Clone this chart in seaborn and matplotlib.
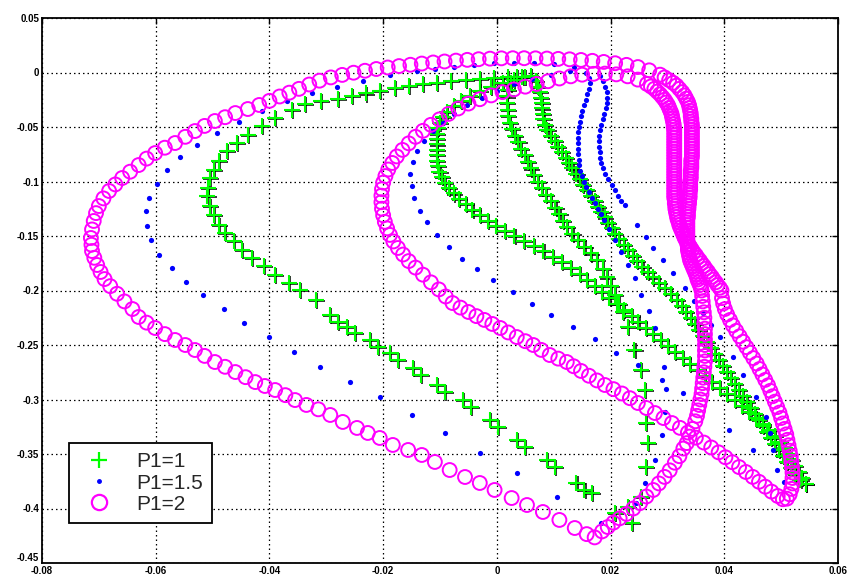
import matplotlib
matplotlib.use("Agg")
import matplotlib.pyplot as plt
import seaborn as sns
import pandas as pd
import numpy as np
from matplotlib.lines import Line2D
from matplotlib.transforms import ScaledTranslation

# ---------------- data ----------------
x_ticks = [-0.08, -0.06, -0.04, -0.02, 0.0, 0.02, 0.04, 0.06]
x_tick_labels = ["-0.08", "-0.06", "-0.04", "-0.02", "0", "0.02", "0.04", "0.06"]
y_ticks = [0.05, 0.0, -0.05, -0.1, -0.15, -0.2, -0.25, -0.3, -0.35, -0.4, -0.45]
y_tick_labels = ["0.05", "0", "-0.05", "-0.1", "-0.15", "-0.2", "-0.25", "-0.3", "-0.35", "-0.4", "-0.45"]
legend_labels = ["P1=1", "P1=1.5", "P1=2"]

# P1=1 (green +)
green_outer = [
    (0.0045, -0.0040), (0.0020, -0.0045), (-0.0005, -0.0050), (-0.0030, -0.0058), (-0.0055, -0.0068),
    (-0.0080, -0.0080), (-0.0105, -0.0093), (-0.0130, -0.0108), (-0.0155, -0.0125), (-0.0180, -0.0145),
    (-0.0205, -0.0168), (-0.0230, -0.0192), (-0.0255, -0.0218), (-0.0280, -0.0240), (-0.0310, -0.0258),
    (-0.0337, -0.0285), (-0.0360, -0.0341), (-0.0390, -0.0417), (-0.0413, -0.0494), (-0.0437, -0.0570),
    (-0.0457, -0.0647), (-0.0475, -0.0723), (-0.0489, -0.0815), (-0.0498, -0.0892), (-0.0504, -0.0968),
    (-0.0508, -0.1060), (-0.0509, -0.1136), (-0.0504, -0.1228), (-0.0498, -0.1304), (-0.0489, -0.1396),
    (-0.0478, -0.1473), (-0.0463, -0.1549), (-0.0448, -0.1626), (-0.0431, -0.1702), (-0.0410, -0.1778),
    (-0.0390, -0.1855), (-0.0366, -0.1931), (-0.0346, -0.1992), (-0.0318, -0.2085), (-0.0293, -0.2225),
    (-0.0264, -0.2332), (-0.0223, -0.2454), (-0.0188, -0.2576), (-0.0147, -0.2714), (-0.0105, -0.2867),
    (-0.0059, -0.3005), (-0.0012, -0.3188), (0.0035, -0.3372), (0.0088, -0.3555), (0.0140, -0.3769),
    (0.0167, -0.3860), (0.0208, -0.4044), (0.0237, -0.4136),
]
green_outer_second_pass = [
    (-0.0279, -0.2285), (-0.0250, -0.2392), (-0.0209, -0.2514), (-0.0174, -0.2636), (-0.0133, -0.2774),
    (-0.0091, -0.2927), (-0.0045, -0.3065), (0.0002, -0.3248), (0.0049, -0.3432), (0.0102, -0.3615),
    (0.0154, -0.3829),
]
green_band_left = [
    (0.0050, -0.0040), (0.0030, -0.0065), (0.0010, -0.0095), (-0.0010, -0.0130), (-0.0030, -0.0170),
    (-0.0048, -0.0215), (-0.0063, -0.0260), (-0.0076, -0.0310), (-0.0087, -0.0360), (-0.0095, -0.0410),
    (-0.0100, -0.0460), (-0.0103, -0.0510), (-0.0105, -0.0560), (-0.0106, -0.0610), (-0.0106, -0.0660),
    (-0.0106, -0.0710), (-0.0106, -0.0760), (-0.0105, -0.0810), (-0.0104, -0.0860), (-0.0101, -0.0910),
    (-0.0097, -0.0960), (-0.0091, -0.1010), (-0.0084, -0.1060), (-0.0076, -0.1110), (-0.0066, -0.1160),
    (-0.0055, -0.1210), (-0.0043, -0.1260), (-0.0030, -0.1310), (-0.0016, -0.1360), (-0.0001, -0.1410),
    (0.0015, -0.1455), (0.0031, -0.1500), (0.0048, -0.1545), (0.0065, -0.1590), (0.0082, -0.1640),
    (0.0098, -0.1690), (0.0114, -0.1740), (0.0130, -0.1795), (0.0146, -0.1850), (0.0159, -0.1905),
    (0.0172, -0.1960), (0.0185, -0.2015), (0.0198, -0.2070), (0.0211, -0.2125), (0.0224, -0.2180),
    (0.0237, -0.2235), (0.0249, -0.2290), (0.0262, -0.2345), (0.0275, -0.2400), (0.0288, -0.2455),
    (0.0301, -0.2510), (0.0314, -0.2565), (0.0327, -0.2620), (0.0340, -0.2675), (0.0353, -0.2730),
    (0.0366, -0.2785), (0.0379, -0.2840), (0.0392, -0.2895), (0.0405, -0.2950), (0.0418, -0.3005),
    (0.0431, -0.3060), (0.0444, -0.3115), (0.0456, -0.3170), (0.0468, -0.3225), (0.0479, -0.3280),
    (0.0489, -0.3335), (0.0498, -0.3390), (0.0506, -0.3445), (0.0513, -0.3500), (0.0519, -0.3555),
    (0.0525, -0.3610), (0.0531, -0.3665), (0.0537, -0.3720), (0.0543, -0.3775),
]
green_band_mid = [
    (0.0035, -0.0040), (0.0025, -0.0100), (0.0020, -0.0160), (0.0018, -0.0220), (0.0018, -0.0280),
    (0.0019, -0.0340), (0.0020, -0.0400), (0.0023, -0.0460), (0.0027, -0.0520), (0.0032, -0.0580),
    (0.0038, -0.0640), (0.0043, -0.0700), (0.0049, -0.0760), (0.0054, -0.0820), (0.0060, -0.0880),
    (0.0066, -0.0940), (0.0072, -0.1000), (0.0079, -0.1060), (0.0087, -0.1120), (0.0095, -0.1180),
    (0.0103, -0.1240), (0.0110, -0.1300), (0.0116, -0.1360), (0.0123, -0.1420), (0.0133, -0.1480),
    (0.0143, -0.1540), (0.0154, -0.1600), (0.0165, -0.1660), (0.0176, -0.1720), (0.0186, -0.1800),
    (0.0194, -0.1880), (0.0201, -0.1960), (0.0208, -0.2040), (0.0215, -0.2120), (0.0221, -0.2200),
    (0.0231, -0.2332), (0.0242, -0.2546), (0.0254, -0.2729), (0.0260, -0.2913), (0.0263, -0.3219),
    (0.0266, -0.3402), (0.0263, -0.3617), (0.0254, -0.3892), (0.0231, -0.3983),
]
green_band_right = [
    (0.0060, -0.0030), (0.0068, -0.0080), (0.0073, -0.0130), (0.0076, -0.0180), (0.0078, -0.0230),
    (0.0079, -0.0280), (0.0080, -0.0330), (0.0081, -0.0380), (0.0082, -0.0430), (0.0085, -0.0480),
    (0.0089, -0.0530), (0.0095, -0.0580), (0.0102, -0.0630), (0.0108, -0.0680), (0.0115, -0.0730),
    (0.0121, -0.0780), (0.0127, -0.0830), (0.0133, -0.0880), (0.0140, -0.0930), (0.0146, -0.0980),
    (0.0152, -0.1030), (0.0159, -0.1080), (0.0165, -0.1130), (0.0172, -0.1180), (0.0178, -0.1230),
    (0.0184, -0.1280), (0.0190, -0.1330), (0.0196, -0.1380), (0.0202, -0.1430), (0.0208, -0.1480),
    (0.0215, -0.1530), (0.0223, -0.1580), (0.0231, -0.1630), (0.0239, -0.1680), (0.0247, -0.1730),
    (0.0256, -0.1780), (0.0265, -0.1830), (0.0275, -0.1880), (0.0285, -0.1930), (0.0295, -0.1980),
    (0.0306, -0.2035), (0.0316, -0.2090), (0.0325, -0.2145), (0.0333, -0.2200), (0.0341, -0.2255),
    (0.0349, -0.2310), (0.0356, -0.2365), (0.0363, -0.2420), (0.0370, -0.2475), (0.0377, -0.2530),
    (0.0384, -0.2585), (0.0391, -0.2640), (0.0398, -0.2695), (0.0405, -0.2750), (0.0412, -0.2805),
    (0.0419, -0.2860), (0.0426, -0.2915), (0.0433, -0.2970), (0.0440, -0.3025), (0.0447, -0.3080),
    (0.0454, -0.3135), (0.0461, -0.3190), (0.0468, -0.3245), (0.0475, -0.3300), (0.0482, -0.3355),
    (0.0489, -0.3410), (0.0496, -0.3465), (0.0503, -0.3520), (0.0510, -0.3575), (0.0517, -0.3630),
    (0.0525, -0.3685), (0.0534, -0.3735), (0.0543, -0.3775),
]

# P1=1.5 (blue dots)
blue_outer = [
    (0.0135, 0.0050), (0.0100, 0.0075), (0.0065, 0.0088), (0.0030, 0.0090), (-0.0005, 0.0085),
    (-0.0040, 0.0072), (-0.0075, 0.0055), (-0.0108, 0.0035), (-0.0140, 0.0014), (-0.0188, -0.0023),
    (-0.0236, -0.0078), (-0.0282, -0.0135), (-0.0325, -0.0188), (-0.0369, -0.0265), (-0.0413, -0.0356),
    (-0.0454, -0.0454), (-0.0492, -0.0555), (-0.0527, -0.0662), (-0.0557, -0.0772), (-0.0580, -0.0895),
    (-0.0598, -0.1020), (-0.0611, -0.1151), (-0.0617, -0.1273), (-0.0615, -0.1411), (-0.0608, -0.1534),
    (-0.0594, -0.1671), (-0.0571, -0.1793), (-0.0546, -0.1922), (-0.0516, -0.2041), (-0.0480, -0.2173),
    (-0.0444, -0.2301), (-0.0401, -0.2430), (-0.0357, -0.2561), (-0.0311, -0.2699), (-0.0258, -0.2836),
    (-0.0206, -0.2980), (-0.0150, -0.3142), (-0.0091, -0.3305), (-0.0030, -0.3488), (0.0036, -0.3677),
    (0.0106, -0.3897), (0.0184, -0.4136),
]
blue_strand_left = [
    (0.0245, -0.3952), (0.0261, -0.3769), (0.0278, -0.3555), (0.0291, -0.3326), (0.0295, -0.3112),
    (0.0298, -0.2906), (0.0294, -0.2705), (0.0278, -0.2347), (0.0268, -0.2185), (0.0254, -0.2041),
    (0.0243, -0.1888), (0.0230, -0.1766), (0.0219, -0.1644), (0.0208, -0.1537), (0.0197, -0.1440),
    (0.0188, -0.1350), (0.0183, -0.1300), (0.0178, -0.1250), (0.0173, -0.1200), (0.0167, -0.1150),
    (0.0162, -0.1100), (0.0157, -0.1050), (0.0153, -0.1000), (0.0150, -0.0950), (0.0147, -0.0900),
    (0.0145, -0.0850), (0.0144, -0.0800), (0.0143, -0.0750), (0.0142, -0.0700), (0.0142, -0.0650),
    (0.0142, -0.0600), (0.0143, -0.0550), (0.0144, -0.0500), (0.0146, -0.0450), (0.0148, -0.0400),
    (0.0150, -0.0350), (0.0153, -0.0300), (0.0156, -0.0250), (0.0159, -0.0200), (0.0162, -0.0150),
    (0.0164, -0.0100), (0.0162, -0.0050), (0.0157, 0.0000),
]
blue_strand_right = [
    (0.0182, -0.0030), (0.0187, -0.0080), (0.0190, -0.0130), (0.0193, -0.0180), (0.0194, -0.0230),
    (0.0194, -0.0280), (0.0192, -0.0330), (0.0189, -0.0380), (0.0186, -0.0430), (0.0183, -0.0480),
    (0.0181, -0.0530), (0.0180, -0.0580), (0.0180, -0.0630), (0.0180, -0.0680), (0.0181, -0.0730),
    (0.0182, -0.0780), (0.0184, -0.0830), (0.0187, -0.0880), (0.0191, -0.0930), (0.0196, -0.0980),
    (0.0202, -0.1030), (0.0207, -0.1080), (0.0213, -0.1130), (0.0219, -0.1180), (0.0225, -0.1216),
    (0.0246, -0.1399), (0.0263, -0.1506), (0.0275, -0.1613), (0.0292, -0.1720), (0.0310, -0.1842),
    (0.0331, -0.1980), (0.0346, -0.2095), (0.0362, -0.2210), (0.0377, -0.2320), (0.0392, -0.2424),
    (0.0415, -0.2607), (0.0433, -0.2775), (0.0456, -0.2974), (0.0474, -0.3158), (0.0481, -0.3310),
    (0.0486, -0.3463), (0.0492, -0.3647), (0.0505, -0.3760),
]
blue_inner = [
    (0.0451, -0.3463), (0.0408, -0.3280), (0.0327, -0.2943), (0.0291, -0.2821), (0.0248, -0.2683),
    (0.0210, -0.2571), (0.0172, -0.2448), (0.0134, -0.2338), (0.0096, -0.2225), (0.0061, -0.2124),
    (0.0028, -0.2011), (-0.0006, -0.1906), (-0.0035, -0.1800), (-0.0061, -0.1708), (-0.0085, -0.1604),
    (-0.0106, -0.1488), (-0.0123, -0.1372), (-0.0136, -0.1268), (-0.0146, -0.1151), (-0.0150, -0.1044),
    (-0.0153, -0.0931), (-0.0147, -0.0821), (-0.0140, -0.0723), (-0.0128, -0.0630), (-0.0113, -0.0540),
    (-0.0095, -0.0460), (-0.0075, -0.0380), (-0.0052, -0.0300), (-0.0027, -0.0230), (0.0000, -0.0170),
    (0.0030, -0.0110), (0.0062, -0.0060), (0.0095, -0.0020), (0.0128, 0.0010),
]

# P1=2 (magenta circles)
magenta_loop_outer = [
    (0.0185, -0.421), (0.0195, -0.417), (0.0205, -0.413), (0.0216, -0.409), (0.0228, -0.405),
    (0.0240, -0.400), (0.0252, -0.395), (0.0263, -0.389), (0.0275, -0.383), (0.0285, -0.377),
    (0.0295, -0.371), (0.0304, -0.365), (0.0313, -0.358), (0.0321, -0.352), (0.0328, -0.345),
    (0.0334, -0.340), (0.0339, -0.334), (0.0344, -0.327), (0.0349, -0.320), (0.0352, -0.315),
    (0.0354, -0.310), (0.0356, -0.305), (0.0358, -0.300), (0.0360, -0.295), (0.0361, -0.290),
    (0.0362, -0.285), (0.0363, -0.280), (0.0364, -0.275), (0.0365, -0.270), (0.0366, -0.265),
    (0.0366, -0.260), (0.0366, -0.255), (0.0366, -0.250), (0.0366, -0.245), (0.0366, -0.240),
    (0.0366, -0.235), (0.0365, -0.230), (0.0365, -0.225), (0.0364, -0.220), (0.0363, -0.215),
    (0.0362, -0.210), (0.0361, -0.205), (0.0360, -0.200), (0.0357, -0.195), (0.0353, -0.190),
    (0.0350, -0.185), (0.0346, -0.180), (0.0342, -0.175), (0.0339, -0.170), (0.0337, -0.165),
    (0.0336, -0.160), (0.0335, -0.155), (0.0335, -0.150), (0.0335, -0.145), (0.0335, -0.140),
    (0.0335, -0.135), (0.0336, -0.130), (0.0337, -0.125), (0.0338, -0.120), (0.0339, -0.115),
    (0.0339, -0.110), (0.0340, -0.105), (0.0340, -0.100), (0.0341, -0.095), (0.0341, -0.090),
    (0.0342, -0.085), (0.0342, -0.080), (0.0343, -0.075), (0.0343, -0.070), (0.0343, -0.065),
    (0.0343, -0.060), (0.0343, -0.055), (0.0343, -0.050), (0.0342, -0.045), (0.0341, -0.040),
    (0.0340, -0.035), (0.0338, -0.030), (0.0333, -0.024), (0.0326, -0.018), (0.0316, -0.012),
    (0.0303, -0.007), (0.0287, -0.002), (0.0268, 0.0020), (0.0248, 0.0050), (0.0228, 0.0070),
    (0.0208, 0.0085), (0.0188, 0.0097), (0.0168, 0.0107), (0.0148, 0.0115), (0.0128, 0.0121),
    (0.0108, 0.0125), (0.0088, 0.0128), (0.0068, 0.0130), (0.0048, 0.0131), (0.0028, 0.0131),
    (0.0008, 0.0130), (-0.0012, 0.0127), (-0.0032, 0.0122), (-0.0052, 0.0116), (-0.0072, 0.0109),
    (-0.0092, 0.0101), (-0.0112, 0.0092), (-0.0132, 0.0082), (-0.0152, 0.0071), (-0.0172, 0.0059),
    (-0.0192, 0.0046), (-0.0212, 0.0032), (-0.0232, 0.0016), (-0.0252, -0.0002), (-0.0272, -0.0022),
    (-0.0292, -0.0045), (-0.0312, -0.0075), (-0.0330, -0.0110), (-0.0348, -0.0150), (-0.0365, -0.0185),
    (-0.0382, -0.0220), (-0.0400, -0.0260), (-0.0418, -0.0298), (-0.0438, -0.0335), (-0.0460, -0.0372),
    (-0.0478, -0.0410), (-0.0496, -0.0445), (-0.0514, -0.0490), (-0.0531, -0.0537), (-0.0548, -0.0590),
    (-0.0566, -0.0647), (-0.0584, -0.0690), (-0.0601, -0.0739), (-0.0616, -0.0790), (-0.0630, -0.0849),
    (-0.0645, -0.0910), (-0.0659, -0.0968), (-0.0671, -0.1027), (-0.0682, -0.1087), (-0.0692, -0.1155),
    (-0.0700, -0.1225), (-0.0705, -0.1290), (-0.0709, -0.1362), (-0.0712, -0.1440), (-0.0714, -0.1518),
    (-0.0713, -0.1580), (-0.0712, -0.1638), (-0.0708, -0.1700), (-0.0703, -0.1766), (-0.0697, -0.1830),
    (-0.0690, -0.1895), (-0.0680, -0.1960), (-0.0668, -0.2030), (-0.0655, -0.2100), (-0.0641, -0.2170),
    (-0.0630, -0.2243), (-0.0616, -0.2295), (-0.0601, -0.2344), (-0.0584, -0.2400), (-0.0566, -0.2454),
    (-0.0548, -0.2500), (-0.0531, -0.2546), (-0.0514, -0.2600), (-0.0496, -0.2656), (-0.0478, -0.2700),
    (-0.0460, -0.2748), (-0.0442, -0.2795), (-0.0425, -0.2840), (-0.0408, -0.2876), (-0.0390, -0.2913),
    (-0.0372, -0.2960), (-0.0355, -0.3005), (-0.0335, -0.3050), (-0.0314, -0.3090), (-0.0293, -0.3142),
    (-0.0271, -0.3206), (-0.0246, -0.3261), (-0.0227, -0.3307), (-0.0206, -0.3353), (-0.0183, -0.3417),
    (-0.0156, -0.3463), (-0.0132, -0.3509), (-0.0109, -0.3573), (-0.0083, -0.3647), (-0.0056, -0.3711),
    (-0.0030, -0.3766), (-0.0004, -0.3830), (0.0026, -0.3904), (0.0053, -0.3968), (0.0081, -0.4032),
    (0.0110, -0.4105), (0.0137, -0.4179), (0.0158, -0.4235), (0.0172, -0.4265),
]
magenta_band_outer_extra = [
    (0.0359, -0.1975), (0.0355, -0.1925), (0.0352, -0.1875), (0.0348, -0.1825), (0.0344, -0.1775),
    (0.0340, -0.1725), (0.0338, -0.1675), (0.0336, -0.1625), (0.0335, -0.1575), (0.0335, -0.1525),
    (0.0335, -0.1475), (0.0335, -0.1425), (0.0335, -0.1375), (0.0336, -0.1325), (0.0336, -0.1275),
    (0.0337, -0.1225), (0.0338, -0.1175), (0.0339, -0.1125), (0.0340, -0.1075), (0.0340, -0.1025),
    (0.0341, -0.0975), (0.0341, -0.0925), (0.0342, -0.0875), (0.0342, -0.0825), (0.0343, -0.0775),
    (0.0343, -0.0725), (0.0343, -0.0675), (0.0343, -0.0625), (0.0343, -0.0575), (0.0343, -0.0525),
    (0.0343, -0.0475), (0.0342, -0.0425), (0.0341, -0.0375), (0.0339, -0.0325), (0.0336, -0.0270),
    (0.0330, -0.0210), (0.0321, -0.0150), (0.0310, -0.0095), (0.0295, -0.0045),
]
magenta_loop_inner = [
    (0.0395, -0.200), (0.0388, -0.195), (0.0381, -0.190), (0.0374, -0.185), (0.0367, -0.180),
    (0.0360, -0.175), (0.0353, -0.170), (0.0346, -0.165), (0.0340, -0.160), (0.0334, -0.155),
    (0.0329, -0.150), (0.0325, -0.145), (0.0321, -0.140), (0.0318, -0.135), (0.0316, -0.130),
    (0.0314, -0.125), (0.0313, -0.120), (0.0312, -0.115), (0.0312, -0.110), (0.0312, -0.105),
    (0.0312, -0.100), (0.0312, -0.095), (0.0312, -0.090), (0.0312, -0.085), (0.0312, -0.080),
    (0.0312, -0.075), (0.0312, -0.070), (0.0312, -0.065), (0.0312, -0.060), (0.0312, -0.055),
    (0.0311, -0.050), (0.0310, -0.045), (0.0308, -0.040), (0.0305, -0.035), (0.0301, -0.030),
    (0.0295, -0.025), (0.0287, -0.020), (0.0277, -0.015), (0.0264, -0.0105), (0.0248, -0.0065),
    (0.0230, -0.0035), (0.0210, -0.0017), (0.0190, -0.0010), (0.0170, -0.0012), (0.0150, -0.0020),
    (0.0130, -0.0035), (0.0110, -0.0055), (0.0090, -0.0080), (0.0070, -0.0105), (0.0050, -0.0130),
    (0.0030, -0.0155), (0.0010, -0.0180), (-0.0010, -0.0210), (-0.0030, -0.0245), (-0.0050, -0.0285),
    (-0.0068, -0.0330), (-0.0085, -0.0380), (-0.0101, -0.0430), (-0.0116, -0.0480), (-0.0130, -0.0535),
    (-0.0143, -0.0590), (-0.0155, -0.0650), (-0.0166, -0.0710), (-0.0176, -0.0770), (-0.0184, -0.0830),
    (-0.0191, -0.0890), (-0.0196, -0.0950), (-0.0200, -0.1010), (-0.0202, -0.1070), (-0.0203, -0.1130),
    (-0.0203, -0.1190), (-0.0202, -0.1250), (-0.0200, -0.1310), (-0.0197, -0.1370), (-0.0193, -0.1430),
    (-0.0188, -0.1490), (-0.0182, -0.1550), (-0.0174, -0.1610), (-0.0165, -0.1670), (-0.0155, -0.1730),
    (-0.0143, -0.1790), (-0.0130, -0.1855), (-0.0116, -0.1925), (-0.0102, -0.1990), (-0.0090, -0.2055),
    (-0.0078, -0.2115), (-0.0064, -0.2157), (-0.0050, -0.2197), (-0.0036, -0.2235), (-0.0022, -0.2270),
    (-0.0008, -0.2307), (0.0006, -0.2344), (0.0020, -0.2385), (0.0035, -0.2427), (0.0050, -0.2465),
    (0.0064, -0.2500), (0.0078, -0.2545), (0.0093, -0.2592), (0.0108, -0.2625), (0.0123, -0.2656),
    (0.0135, -0.2695), (0.0148, -0.2738), (0.0162, -0.2782), (0.0176, -0.2825), (0.0190, -0.2867),
    (0.0205, -0.2905), (0.0220, -0.2945), (0.0234, -0.2988), (0.0248, -0.3032), (0.0263, -0.3078),
    (0.0278, -0.3124), (0.0293, -0.3170), (0.0308, -0.3216), (0.0322, -0.3260), (0.0336, -0.3303),
    (0.0350, -0.3350), (0.0364, -0.3395), (0.0377, -0.3440), (0.0390, -0.3485), (0.0402, -0.3530),
    (0.0414, -0.3575), (0.0426, -0.3620), (0.0438, -0.3665), (0.0450, -0.3710), (0.0461, -0.3755),
    (0.0472, -0.3800), (0.0483, -0.3845), (0.0494, -0.3885), (0.0503, -0.3915), (0.0510, -0.3910),
    (0.0515, -0.3870), (0.0518, -0.3820), (0.0520, -0.3770), (0.0520, -0.3720), (0.0520, -0.3670),
    (0.0519, -0.3620), (0.0518, -0.3570), (0.0517, -0.3520), (0.0515, -0.3470), (0.0513, -0.3420),
    (0.0511, -0.3370), (0.0509, -0.3320), (0.0506, -0.3270), (0.0503, -0.3220), (0.0500, -0.3170),
    (0.0497, -0.3120), (0.0493, -0.3070), (0.0489, -0.3020), (0.0485, -0.2970), (0.0481, -0.2920),
    (0.0477, -0.2870), (0.0472, -0.2820), (0.0467, -0.2770), (0.0462, -0.2720), (0.0457, -0.2670),
    (0.0451, -0.2620), (0.0445, -0.2570), (0.0439, -0.2520), (0.0433, -0.2470), (0.0427, -0.2420),
    (0.0421, -0.2370), (0.0415, -0.2320), (0.0410, -0.2270), (0.0405, -0.2220), (0.0401, -0.2170),
    (0.0398, -0.2120), (0.0396, -0.2070),
]
magenta_band_inner_extra = [
    (0.0392, -0.1975), (0.0385, -0.1925), (0.0378, -0.1875), (0.0371, -0.1825), (0.0364, -0.1775),
    (0.0357, -0.1725), (0.0350, -0.1675), (0.0343, -0.1625), (0.0337, -0.1575), (0.0331, -0.1525),
    (0.0327, -0.1475), (0.0323, -0.1425), (0.0320, -0.1375), (0.0317, -0.1325), (0.0315, -0.1275),
    (0.0314, -0.1225), (0.0313, -0.1175), (0.0312, -0.1125), (0.0312, -0.1075), (0.0312, -0.1025),
    (0.0312, -0.0975), (0.0312, -0.0925), (0.0312, -0.0875), (0.0312, -0.0825), (0.0312, -0.0775),
    (0.0312, -0.0725), (0.0312, -0.0675), (0.0312, -0.0625), (0.0312, -0.0575), (0.0312, -0.0525),
    (0.0311, -0.0475), (0.0309, -0.0425), (0.0307, -0.0375), (0.0303, -0.0325), (0.0298, -0.0275),
    (0.0291, -0.0225), (0.0282, -0.0175), (0.0271, -0.0128),
]

# ---------------- drawing ----------------
GREEN = "#00ff00"
BLUE = "#0000ff"
MAGENTA = "#ff00ff"


def frame(*segments):
    pts = [p for seg in segments for p in seg]
    return pd.DataFrame(pts, columns=["x", "y"])


sns.set_theme(style="white")
plt.rcParams["font.family"] = ["Liberation Sans", "DejaVu Sans"]

fig = plt.figure(figsize=(8.48, 5.77), dpi=100)
ax = fig.add_axes([42 / 848, 1 - 563 / 577, 796 / 848, 545 / 577])

green_df = frame(green_outer, green_outer_second_pass, green_band_left, green_band_mid, green_band_right)
blue_df = frame(blue_outer, blue_strand_left, blue_strand_right, blue_inner)
magenta_df = frame(magenta_loop_outer, magenta_band_outer_extra, magenta_loop_inner, magenta_band_inner_extra)

# thin black fringe under the green crosses
sns.scatterplot(data=green_df, x="x", y="y", marker="+", s=120, color="black",
                linewidth=1.1, ax=ax, legend=False, zorder=2)
shadow = ax.collections[-1]
shadow.set_edgecolor("black")
shadow.set_offset_transform(ax.transData + ScaledTranslation(1.1 / 100, -1.1 / 100, fig.dpi_scale_trans))

sns.scatterplot(data=green_df, x="x", y="y", marker="+", s=120, color=GREEN,
                linewidth=1.5, ax=ax, legend=False, zorder=3)
ax.collections[-1].set_edgecolor(GREEN)

sns.scatterplot(data=blue_df, x="x", y="y", marker="o", s=14, color=BLUE,
                linewidth=0, ax=ax, legend=False, zorder=4)

sns.scatterplot(data=magenta_df, x="x", y="y", marker="o", s=100, color=MAGENTA,
                ax=ax, legend=False, zorder=5)
mc = ax.collections[-1]
mc.set_facecolor("none")
mc.set_edgecolor(MAGENTA)
mc.set_linewidth(1.4)

ax.set_xlim(-0.08, 0.06)
ax.set_ylim(-0.45, 0.05)
ax.set_xticks(x_ticks)
ax.set_xticklabels(x_tick_labels)
ax.set_yticks(y_ticks)
ax.set_yticklabels(y_tick_labels)
ax.set_xlabel("")
ax.set_ylabel("")
ax.grid(True, color="black", linestyle=(0, (1.2, 2.4)), linewidth=0.9)
ax.set_axisbelow(True)
ax.tick_params(axis="both", direction="in", length=4, width=1, colors="black",
               labelsize=7, top=True, right=True, pad=2)
for lab in ax.get_xticklabels() + ax.get_yticklabels():
    lab.set_fontweight("bold")
ax.get_yticklabels()[-1].set_verticalalignment("bottom")
for sp in ax.spines.values():
    sp.set_color("black")
    sp.set_linewidth(1.3)

handles = [
    Line2D([0], [0], marker="+", color=GREEN, linestyle="none", markersize=11, markeredgewidth=1.6),
    Line2D([0], [0], marker=".", color=BLUE, linestyle="none", markersize=5),
    Line2D([0], [0], marker="o", markerfacecolor="none", markeredgecolor=MAGENTA, linestyle="none",
           markersize=11, markeredgewidth=1.6),
]
leg = ax.legend(handles, legend_labels, loc="lower left", bbox_to_anchor=(0.0335, 0.0734),
                frameon=True, fancybox=False, edgecolor="black", framealpha=1, fontsize=15,
                handlelength=2.0, handletextpad=0.8, borderpad=0.45, labelspacing=0.1,
                borderaxespad=0)
leg.get_frame().set_linewidth(1.3)
leg.set_zorder(10)

fig.savefig("out.png", dpi=100)
